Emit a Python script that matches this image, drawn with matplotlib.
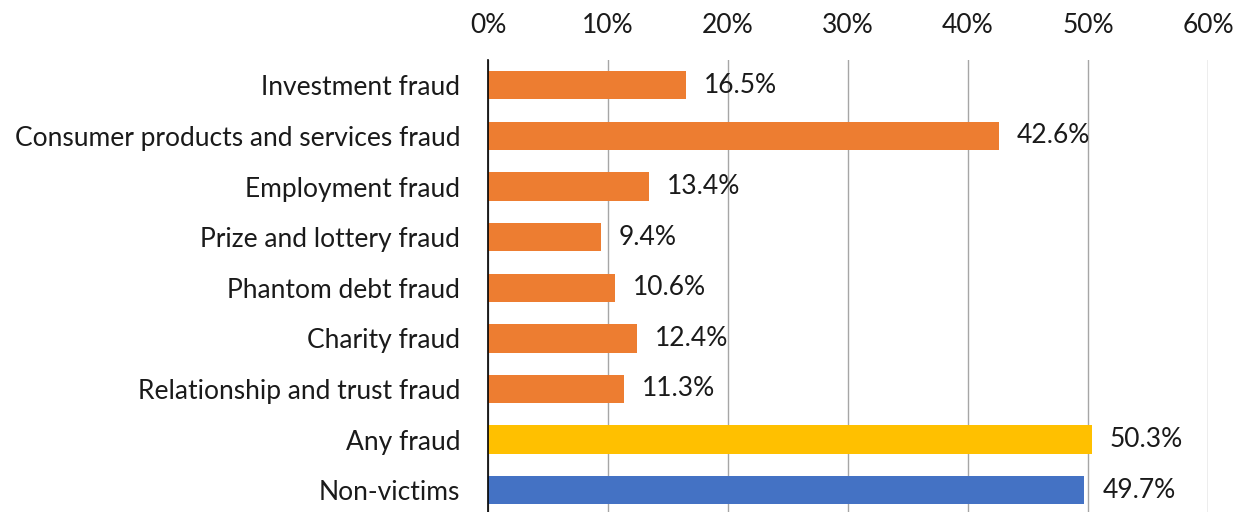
import matplotlib
matplotlib.use('Agg')
import matplotlib.pyplot as plt
import numpy as np

categories = ['Investment fraud', 'Consumer products and services fraud',
              'Employment fraud', 'Prize and lottery fraud',
              'Phantom debt fraud', 'Charity fraud',
              'Relationship and trust fraud', 'Any fraud', 'Non-victims']
values = [16.5, 42.6, 13.4, 9.4, 10.6, 12.4, 11.3, 50.3, 49.7]
colors = ['#ED7D31'] * 7 + ['#FFC000', '#4472C4']
ticks = [0, 10, 20, 30, 40, 50, 60]

plt.rcParams['font.family'] = ['Lato', 'DejaVu Sans']

fig = plt.figure(figsize=(12.38, 5.12), dpi=100)
# axes placed in pixel terms: left 488, right 1208, top 60, bottom ~515
ax = fig.add_axes([488 / 1238, -3.5 / 512, 720 / 1238, 455.5 / 512])

y = np.arange(len(categories))
ax.barh(y, values, height=0.56, color=colors, zorder=3)
for yi, v in zip(y, values):
    ax.text(v + 1.5, yi, '{:.1f}%'.format(v), va='center', ha='left',
            fontsize=19, color='#1a1a1a', zorder=4)

ax.set_xlim(0, 60)
ax.set_ylim(len(categories) - 0.5, -0.5)
ax.set_xticks(ticks)
ax.set_xticklabels(['{}%'.format(t) for t in ticks], fontsize=19)
ax.xaxis.tick_top()
ax.tick_params(axis='x', length=0, pad=16, colors='#1a1a1a')
ax.set_yticks(y)
ax.set_yticklabels(categories, fontsize=19)
ax.tick_params(axis='y', length=0, pad=20, colors='#1a1a1a')
ax.grid(axis='x', color='#a6a6a6', linewidth=1, zorder=0)
for s in ['top', 'right', 'bottom']:
    ax.spines[s].set_visible(False)
ax.spines['left'].set_color('black')
ax.spines['left'].set_linewidth(1.2)
ax.spines['left'].set_zorder(5)

fig.savefig('out.png', dpi=100)
